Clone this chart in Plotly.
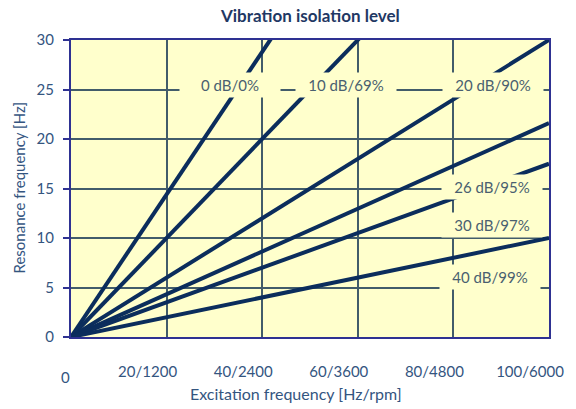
import plotly.graph_objects as go

# Excitation frequency span [Hz] and the resonance frequency each isolation
# line reaches at the right-hand end (lines run straight from the origin).
excitation = [0, 100]
levels = ["0 dB/0%", "10 dB/69%", "20 dB/90%", "26 dB/95%", "30 dB/97%", "40 dB/99%"]
resonance_at_end = [72, 50, 30, 21.6, 17.5, 10]

# Where each level's caption sits (excitation, resonance)
label_x = [33.3, 57.5, 88.3, 88.0, 88.0, 87.6]
label_y = [25.5, 25.5, 25.5, 15.2, 11.3, 6.1]

x_ticks = [20, 40, 60, 80, 100]
x_tick_text = ["20/1200", "40/2400", "60/3600", "80/4800", "100/6000"]
y_ticks = [0, 5, 10, 15, 20, 25, 30]

PLOT_BG = "#FFFFCC"
LINE_COLOR = "#0b2d5c"
FRAME = "#2e3192"
GRID = "#425c6a"
TICK_FONT = "#34557f"
LABEL_FONT = "#4a5f70"
FONT = "Lato"

fig = go.Figure()
for name, r_end in zip(levels, resonance_at_end):
    fig.add_trace(go.Scatter(
        x=excitation, y=[0, r_end], mode="lines", name=name,
        line=dict(color=LINE_COLOR, width=4), showlegend=False,
    ))

annotations = []
for name, lx, ly in zip(levels, label_x, label_y):
    annotations.append(dict(
        x=lx, y=ly, xref="x", yref="y", text=name, showarrow=False,
        font=dict(family=FONT, size=15, color=LABEL_FONT),
        bgcolor=PLOT_BG, width=100, height=24, borderpad=0,
        xanchor="center", yanchor="middle",
    ))

# lone origin label under the x axis
annotations.append(dict(
    x=0, y=0, xref="x", yref="y", text="0", showarrow=False,
    font=dict(family=FONT, size=15, color=TICK_FONT),
    xshift=-6, yshift=-40, xanchor="center", yanchor="middle",
))
# axis titles
annotations.append(dict(
    x=0.47, y=0, xref="paper", yref="paper", text="Excitation frequency [Hz/rpm]",
    showarrow=False, font=dict(family=FONT, size=16, color=TICK_FONT),
    yshift=-56, xanchor="center", yanchor="middle",
))
annotations.append(dict(
    x=0, y=0.5, xref="paper", yref="paper", text="Resonance frequency [Hz]",
    showarrow=False, textangle=-90, font=dict(family=FONT, size=15, color=TICK_FONT),
    xshift=-53, xanchor="center", yanchor="middle",
))
annotations.append(dict(
    x=0.5, y=1, xref="paper", yref="paper", text="<b>Vibration isolation level</b>",
    showarrow=False, font=dict(family=FONT, size=17, color="#1f3864"),
    yshift=25, xanchor="center", yanchor="middle",
))

fig.update_layout(
    width=576, height=409,
    margin=dict(l=71, r=21, t=40, b=72),
    paper_bgcolor="white", plot_bgcolor=PLOT_BG,
    annotations=annotations,
    font=dict(family=FONT, size=15, color=TICK_FONT),
)
fig.update_xaxes(
    range=[0, 100], tickvals=x_ticks, ticktext=x_tick_text,
    showgrid=True, gridcolor=GRID, gridwidth=1.5,
    showline=True, mirror=True, linecolor=FRAME, linewidth=2,
    ticks="", zeroline=False,
    ticklabelshift=-19, ticklabelstandoff=20,
    tickfont=dict(family=FONT, size=15, color=TICK_FONT),
)
fig.update_yaxes(
    range=[0, 30], tickvals=y_ticks,
    showgrid=True, gridcolor=GRID, gridwidth=1.5,
    showline=True, mirror=True, linecolor=FRAME, linewidth=2,
    ticks="outside", ticklen=6, tickcolor=FRAME, tickwidth=2,
    zeroline=False, ticklabelstandoff=6,
    tickfont=dict(family=FONT, size=15, color=TICK_FONT),
)

fig.write_html("out.html")
